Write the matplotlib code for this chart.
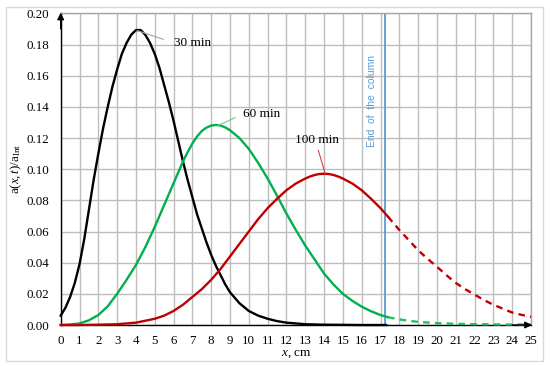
import matplotlib
matplotlib.use("Agg")
import matplotlib.pyplot as plt
from matplotlib.patches import Rectangle

# ---------------- data ----------------
x_30 = [0, 0.25, 0.5, 0.75, 1.0, 1.25, 1.5, 1.75, 2.0, 2.25, 2.5, 2.75, 3.0, 3.25,
        3.5, 3.75, 4.0, 4.25, 4.5, 4.75, 5.0, 5.25, 5.5, 5.75, 6.0, 6.25, 6.5, 6.75,
        7.0, 7.25, 7.5, 7.75, 8.0, 8.25, 8.5, 8.75, 9.0, 9.5, 10.0, 10.5, 11.0, 11.5,
        12.0, 12.5, 13.0, 14.0, 15.0, 16.0, 17.3]
y_30 = [0.006, 0.011, 0.018, 0.027, 0.039, 0.055, 0.074, 0.093, 0.110, 0.126, 0.140,
        0.153, 0.164, 0.174, 0.181, 0.1863, 0.1893, 0.1893, 0.1862, 0.181, 0.174,
        0.165, 0.154, 0.143, 0.131, 0.118, 0.105, 0.093, 0.082, 0.071, 0.062, 0.053,
        0.045, 0.038, 0.032, 0.026, 0.021, 0.014, 0.009, 0.006, 0.004, 0.0025,
        0.0015, 0.001, 0.0005, 0.0002, 0.0001, 0.0, 0.0]

x_60 = [0, 0.5, 1.0, 1.5, 2.0, 2.5, 3.0, 3.5, 4.0, 4.5, 5.0, 5.5, 6.0, 6.5, 6.75, 7.0,
        7.25, 7.5, 7.75, 8.0, 8.25, 8.5, 8.75, 9.0, 9.5, 10.0, 10.5, 11.0, 11.5, 12.0,
        12.5, 13.0, 13.5, 14.0, 14.5, 15.0, 15.5, 16.0, 16.5, 17.0, 17.4]
y_60 = [0.0, 0.0003, 0.001, 0.003, 0.0064, 0.012, 0.020, 0.029, 0.0385, 0.050, 0.063,
        0.077, 0.091, 0.105, 0.111, 0.1165, 0.121, 0.1245, 0.1267, 0.128, 0.1284,
        0.128, 0.1268, 0.125, 0.120, 0.113, 0.104, 0.094, 0.083, 0.0715, 0.061,
        0.051, 0.042, 0.033, 0.026, 0.020, 0.0155, 0.0118, 0.0088, 0.0064, 0.005]
x_60_ext = [17.4, 18, 18.5, 19, 20, 21, 22, 23, 24, 25]
y_60_ext = [0.005, 0.0036, 0.0027, 0.002, 0.0012, 0.0008, 0.0005, 0.0004, 0.0003, 0.0003]

x_100 = [0, 1, 2, 3, 4, 5, 5.5, 6, 6.5, 7, 7.5, 8, 8.5, 9, 9.5, 10, 10.5, 11, 11.5,
         12, 12.5, 13, 13.25, 13.5, 13.75, 14, 14.25, 14.5, 14.75, 15, 15.5, 16,
         16.5, 17, 17.4]
y_100 = [0.0, 0.0, 0.0002, 0.0005, 0.0015, 0.004, 0.006, 0.009, 0.013, 0.018, 0.023,
         0.029, 0.036, 0.044, 0.052, 0.060, 0.068, 0.075, 0.081, 0.0865, 0.0908,
         0.094, 0.0953, 0.0963, 0.0969, 0.0971, 0.0969, 0.0963, 0.0953, 0.094,
         0.0908, 0.0865, 0.081, 0.075, 0.0695]
x_100_ext = [17.4, 18, 18.5, 19, 19.5, 20, 20.5, 21, 21.5, 22, 22.5, 23, 23.5, 24,
             24.5, 25]
y_100_ext = [0.0695, 0.061, 0.0545, 0.048, 0.0425, 0.0374, 0.032, 0.027, 0.023,
             0.0195, 0.016, 0.013, 0.0105, 0.008, 0.0065, 0.0053]

column_end = 17.25
x_ticks = list(range(0, 26))
y_ticks = [0.00, 0.02, 0.04, 0.06, 0.08, 0.10, 0.12, 0.14, 0.16, 0.18, 0.20]
y_tick_labels = ["%.2f" % v for v in y_ticks]

# ---------------- style ----------------
plt.rcParams['font.family'] = ['Liberation Serif', 'DejaVu Serif']
plt.rcParams['mathtext.fontset'] = 'custom'
plt.rcParams['mathtext.rm'] = 'Liberation Serif'
plt.rcParams['mathtext.it'] = 'Liberation Serif:italic'

BLACK = '#000000'
GREEN = '#00b050'
RED = '#c00000'
BLUE = '#5b9bd5'
GRID = '#bdbdbd'

fig = plt.figure(figsize=(5.5, 3.66), dpi=100)
fig.patches.append(Rectangle((6/550, 1 - 361/366), (543-6)/550, (361-7)/366,
                             transform=fig.transFigure, fill=False,
                             edgecolor='#d9d9d9', lw=1.0))
ax = fig.add_axes([60.7/550, 1 - 325/366, (531 - 60.7)/550, (325 - 13.4)/366])

ax.set_xlim(0, 25)
ax.set_ylim(0, 0.20)
ax.set_xticks(x_ticks)
ax.set_yticks(y_ticks)
ax.set_yticklabels(y_tick_labels)
ax.tick_params(axis='both', length=0, labelsize=9.3)
ax.tick_params(axis='x', pad=7)
ax.tick_params(axis='y', pad=8)
ax.grid(True, color=GRID, lw=1.0)
ax.set_axisbelow(True)

for s in ('top', 'right'):
    ax.spines[s].set_color('#a6a6a6')
    ax.spines[s].set_linewidth(1.0)
for s in ('left', 'bottom'):
    ax.spines[s].set_color('black')
    ax.spines[s].set_linewidth(1.0)

lw = 1.7
ax.plot(x_30, y_30, color=BLACK, lw=lw, zorder=3, solid_joinstyle='round', clip_on=False)
ax.plot(x_60, y_60, color=GREEN, lw=lw, zorder=3, solid_joinstyle='round', clip_on=False)
ax.plot(x_60_ext, y_60_ext, color='#22c062', lw=lw, ls=(0, (2.8, 2.2)), zorder=3, clip_on=False)
ax.plot(x_100, y_100, color=RED, lw=lw, zorder=3, solid_joinstyle='round', clip_on=False)
ax.plot(x_100_ext, y_100_ext, color=RED, lw=lw, ls=(0, (2.8, 2.2)), zorder=3, clip_on=False)

ax.axvline(column_end, color=BLUE, lw=1.3, zorder=2)
ax.text(16.54, 0.144, "End  of  the  column", rotation=90, color=BLUE,
        family=['Liberation Sans', 'DejaVu Sans'], fontsize=7.5,
        ha='center', va='center')

# axis arrows
ax.annotate('', xy=(0, 0.2005), xytext=(0, 0.19), xycoords='data',
            arrowprops=dict(arrowstyle='-|>', color='black', lw=1.0,
                            mutation_scale=10, shrinkA=0, shrinkB=0),
            annotation_clip=False, zorder=5)
ax.annotate('', xy=(25.05, 0), xytext=(24, 0), xycoords='data',
            arrowprops=dict(arrowstyle='-|>', color='black', lw=1.0,
                            mutation_scale=10, shrinkA=0, shrinkB=0),
            annotation_clip=False, zorder=5)

# curve labels with leader lines
ax.annotate('30 min', xy=(4.06, 0.189), xytext=(6.03, 0.181), fontsize=9.5,
            ha='left', va='center',
            arrowprops=dict(arrowstyle='-', color='#a6a6a6', lw=0.8,
                            relpos=(0, 0.5), shrinkA=6, shrinkB=0))
ax.annotate('60 min', xy=(8.36, 0.128), xytext=(9.70, 0.1355), fontsize=9.5,
            ha='left', va='center',
            arrowprops=dict(arrowstyle='-', color='#5fd38d', lw=0.8,
                            relpos=(0, 0.5), shrinkA=4, shrinkB=0))
ax.annotate('100 min', xy=(14.06, 0.097), xytext=(13.63, 0.1187), fontsize=9.5,
            ha='center', va='center',
            arrowprops=dict(arrowstyle='-', color='#e04040', lw=0.8,
                            relpos=(0.5, 0), shrinkA=1, shrinkB=0))

ax.set_xlabel(r'$x$, cm', fontsize=9.5, labelpad=1)
ax.set_ylabel(r'$\mathrm{a}(x,t)/\mathrm{a}_{\mathrm{Int}}$', fontsize=9.3, labelpad=2)

fig.savefig('out.png', dpi=100)
